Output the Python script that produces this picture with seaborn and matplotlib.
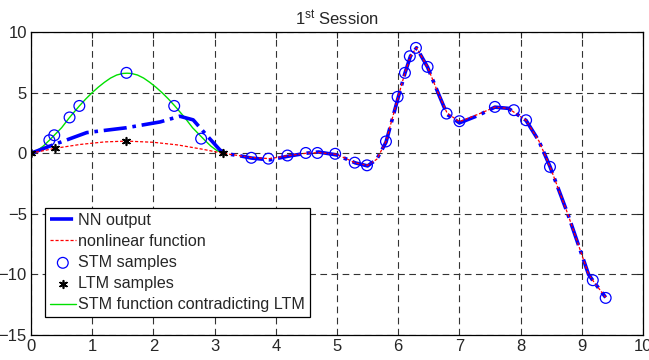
import numpy as np
import pandas as pd
import matplotlib
matplotlib.use("Agg")
import matplotlib.pyplot as plt
import seaborn as sns

# datos
nl_x = [0, 0.39, 0.8, 1.2, 1.56, 2.0, 2.4, 2.8, 3.13, 3.4, 3.6, 3.9, 4.2, 4.5, 4.7,
        5.0, 5.3, 5.5, 5.65, 5.8, 6.0, 6.11, 6.2, 6.3, 6.48, 6.65, 6.8, 7.0, 7.3,
        7.58, 7.8, 8.09, 8.3, 8.48, 8.77, 9.11, 9.18, 9.39]
nl_y = [0, 0.4, 0.72, 0.93, 1.0, 0.9, 0.68, 0.33, 0.0, -0.2, -0.35, -0.45, -0.2, 0.0, 0.05,
        -0.1, -0.8, -1.0, -0.5, 0.96, 4.65, 6.63, 8.0, 8.7, 7.1, 5.0, 3.3, 2.6, 3.2,
        3.8, 3.7, 2.7, 1.0, -1.1, -5.0, -10.0, -10.5, -11.9]

nn_x = [0, 0.37, 0.91, 1.56, 2.11, 2.43, 2.65, 2.87, 3.09, 3.2, 3.4, 3.6, 3.9, 4.2, 4.5,
        4.7, 5.0, 5.3, 5.5, 5.65, 5.8, 6.0, 6.11, 6.2, 6.3, 6.48, 6.65, 6.8, 7.0, 7.3,
        7.58, 7.8, 8.09, 8.3, 8.48, 8.77, 9.11, 9.18, 9.39]
nn_y = [0, 0.7, 1.7, 2.1, 2.58, 3.05, 2.75, 1.48, 0.25, -0.05, -0.2, -0.4, -0.55, -0.25, 0.0,
        0.1, -0.15, -0.8, -1.05, -0.5, 0.9, 4.6, 6.6, 8.0, 8.7, 7.1, 5.0, 3.2, 2.5, 3.1,
        3.8, 3.7, 2.7, 1.0, -1.1, -5.0, -10.0, -10.5, -11.9]

stm_x = [0.30, 0.38, 0.63, 0.79, 1.56, 2.34, 2.78, 3.60, 3.88, 4.19, 4.49, 4.68, 4.97,
         5.29, 5.49, 5.80, 5.99, 6.11, 6.19, 6.29, 6.48, 6.79, 7.00, 7.58, 7.89, 8.09,
         8.48, 9.18, 9.39]
stm_y = [1.07, 1.48, 2.95, 3.9, 6.63, 3.9, 1.2, -0.38, -0.45, -0.19, 0.02, 0.02, -0.05,
         -0.78, -1.0, 0.97, 4.65, 6.63, 8.0, 8.69, 7.12, 3.27, 2.64, 3.82, 3.55, 2.72,
         -1.13, -10.48, -11.94]

ltm_x = [0, 0.39, 1.56, 3.13]
ltm_y = [0, 0.44, 1.0, 0.02]

green_x = [0, 0.1, 0.2, 0.3, 0.38, 0.5, 0.63, 0.79, 0.9, 1.0, 1.1, 1.2, 1.3, 1.4, 1.5,
           1.57, 1.64, 1.74, 1.84, 1.94, 2.04, 2.14, 2.24, 2.35, 2.51, 2.64, 2.76, 2.84,
           2.94, 3.04, 3.14]
green_y = [0, 0.21, 0.58, 1.07, 1.48, 2.1, 2.95, 3.9, 4.5, 5.0, 5.45, 5.85, 6.2, 6.45, 6.58,
           6.6, 6.58, 6.45, 6.2, 5.85, 5.45, 5.0, 4.5, 3.9, 2.95, 2.1, 1.48, 1.07, 0.58,
           0.21, 0]

sns.set_style("white")
plt.rcParams['font.family'] = ['Liberation Sans', 'DejaVu Sans']
plt.rcParams['mathtext.default'] = 'regular'

fig, ax = plt.subplots(figsize=(6.49, 3.60), dpi=100)
fig.subplots_adjust(left=31/649, right=643/649, bottom=1-335/360, top=1-32/360)

sns.lineplot(x=green_x, y=green_y, ax=ax, color='#00e000', linewidth=1.0, sort=False,
             label='STM function contradicting LTM', zorder=2)
sns.lineplot(x=nn_x, y=nn_y, ax=ax, color='blue', linewidth=2.6, linestyle='-.', sort=False,
             label='NN output', zorder=3)
sns.lineplot(x=nl_x, y=nl_y, ax=ax, color='red', linewidth=0.9, sort=False,
             label='nonlinear function', zorder=4)
ax.lines[-1].set_dashes((2.5, 1.5))
sns.scatterplot(x=stm_x, y=stm_y, ax=ax, marker='o', s=60, facecolor='none',
                edgecolor='blue', linewidth=0.9, label='STM samples', zorder=5)
sns.scatterplot(x=ltm_x, y=ltm_y, ax=ax, marker=(6, 2, 0), s=30, color='k',
                edgecolor='k', linewidth=1.2, label='LTM samples', zorder=6)

ax.set_xlim(0, 10)
ax.set_ylim(-15, 10)
ax.set_xticks(range(0, 11))
ax.set_yticks([-15, -10, -5, 0, 5, 10])
ax.tick_params(direction='in', top=True, right=True, labelsize=12, length=4, width=0.8, pad=3)
ax.grid(True, color='#333333', linestyle=(0, (6, 4)), linewidth=0.8)
for s in ax.spines.values():
    s.set_color('k')
    s.set_linewidth(0.9)

ax.set_title('1$^{st}$ Session', fontsize=12, pad=5)

h, l = ax.get_legend_handles_labels()
orden = ['NN output', 'nonlinear function', 'STM samples', 'LTM samples',
         'STM function contradicting LTM']
hh = [h[l.index(o)] for o in orden]
leg = ax.legend(hh, orden, loc='lower left', bbox_to_anchor=(0.023, 0.059), fontsize=11.6,
                frameon=True, fancybox=False, edgecolor='k', framealpha=1,
                handlelength=1.6, handletextpad=0.15, borderpad=0.3, labelspacing=0.38,
                borderaxespad=0)
leg.get_frame().set_linewidth(0.9)

plt.savefig('out.png', dpi=100)
plt.close()
